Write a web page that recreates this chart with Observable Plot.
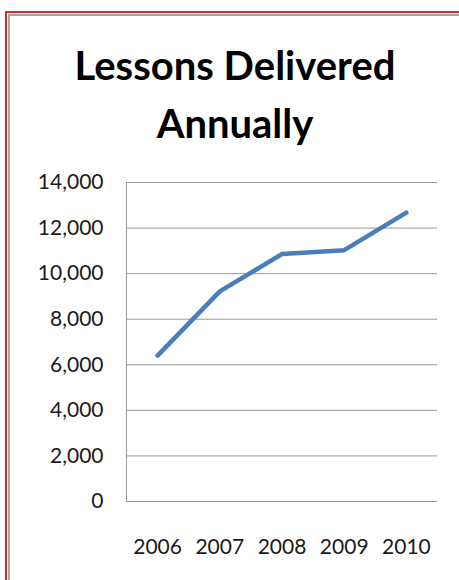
<!DOCTYPE html>
<html>
<head>
<meta charset="utf-8">
<script src="https://cdn.jsdelivr.net/npm/d3@7"></script>
<script src="https://cdn.jsdelivr.net/npm/@observablehq/plot@0.6"></script>
<style>
  html, body { margin: 0; padding: 0; background: #fff; }
  #wrap { position: relative; width: 459px; height: 580px; overflow: hidden; background: #fff; }
  .b-red { position: absolute; left: 5px; top: 11px; width: 470px; height: 600px;
           border-left: 2px solid #d42a2a; border-top: 2px solid #d42a2a; box-sizing: border-box; }
  .b-gray { position: absolute; left: 8px; top: 14px; width: 470px; height: 600px;
            border-left: 2px solid #a6a6a6; border-top: 2px solid #a6a6a6; box-sizing: border-box; }
  #title { position: absolute; left: 10px; width: 450px; top: 36px; text-align: center;
           font-family: Lato, "Open Sans", sans-serif; font-weight: 700; font-size: 40px;
           line-height: 58px; color: #000; }
  #chart { position: absolute; left: 0; top: 150px; }
</style>
</head>
<body>
<div id="wrap">
  <div class="b-red"></div>
  <div class="b-gray"></div>
  <div id="title">Lessons Delivered<br>Annually</div>
  <div id="chart"></div>
</div>
<script>
const titleText = "Lessons Delivered Annually";
const years = [2006, 2007, 2008, 2009, 2010];
const lessons = [6400, 9220, 10860, 11030, 12680];
const yTicks = [0, 2000, 4000, 6000, 8000, 10000, 12000, 14000];

const data = years.map((y, i) => ({year: y, value: lessons[i]}));

const chart = Plot.plot({
  width: 459,
  height: 430,
  marginTop: 32,
  marginBottom: 79,
  marginLeft: 126,
  marginRight: 22,
  style: {fontFamily: "Lato, 'Open Sans', sans-serif", fontSize: "21px", color: "#1a1a1a", background: "transparent", overflow: "visible"},
  x: {type: "linear", domain: [2005.5, 2010.5], ticks: years, tickFormat: d => String(d), tickSize: 0, tickPadding: 38, label: null},
  y: {domain: [0, 14000], ticks: yTicks, tickFormat: d3.format(","), tickSize: 0, tickPadding: 23, label: null},
  marks: [
    Plot.ruleY(yTicks, {stroke: "#999", strokeWidth: 1}),
    Plot.ruleX([2005.5], {stroke: "#999", strokeWidth: 1}),
    Plot.line(data, {x: "year", y: "value", stroke: "#4a7ebb", strokeWidth: 4.5, strokeLinecap: "round", strokeLinejoin: "round"})
  ]
});
document.getElementById("chart").appendChild(chart);
</script>
</body>
</html>
